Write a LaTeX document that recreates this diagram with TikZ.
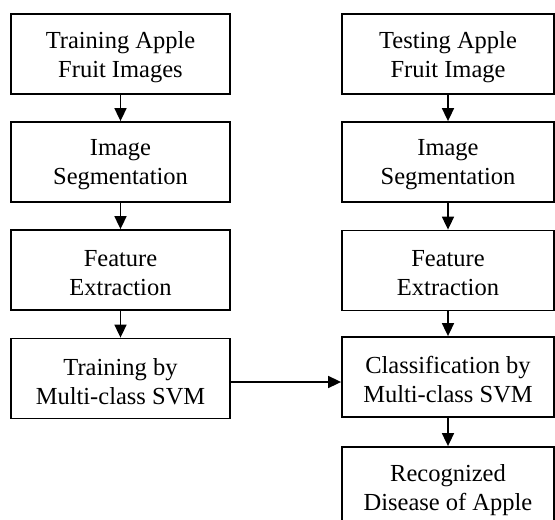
\documentclass[tikz,border=0pt]{standalone}
\usepackage{fontspec}
\setmainfont{Liberation Serif}
\usetikzlibrary{arrows.meta}
\begin{document}
\begin{tikzpicture}[x=1pt,y=-1pt,
  box/.style={draw,line width=1.8pt,minimum height=80pt,inner sep=0pt},
  lbox/.style={box,minimum width=219pt},
  rbox/.style={box,minimum width=212pt},
  txt/.style={inner sep=0pt,align=center,font=\fontsize{24.5}{29}\selectfont},
  arr/.style={line width=1.7pt,-{Triangle[length=13pt,width=12pt]}}]
\clip (0,0) rectangle (555,520);
\fill[white] (0,0) rectangle (555,520);
\node[lbox] (l1) at (120.5,54) {};
\node[lbox] (l2) at (120.5,162) {};
\node[lbox] (l3) at (120.5,270) {};
\node[lbox] (l4) at (120.5,378.5) {};
\node[rbox] (r1) at (448,54) {};
\node[rbox] (r2) at (448,162) {};
\node[rbox] (r3) at (448,270.5) {};
\node[rbox] (r4) at (448,377) {};
\node[rbox] (r5) at (448,487) {};
\node[txt] (t1) at ([yshift=-3pt]l1.center) {Training Apple\\Fruit Images};
\node[txt] (t2) at ([yshift=-3pt]l2.center) {Image\\Segmentation};
\node[txt] (t3) at ([yshift=-3pt]l3.center) {Feature\\Extraction};
\node[txt] (t4) at ([yshift=-3pt]l4.center) {Training by\\Multi-class SVM};
\node[txt] (u1) at ([yshift=-3pt]r1.center) {Testing Apple\\Fruit Image};
\node[txt] (u2) at ([yshift=-3pt]r2.center) {Image\\Segmentation};
\node[txt] (u3) at ([yshift=-3pt]r3.center) {Feature\\Extraction};
\node[txt] (u4) at ([yshift=-3pt]r4.center) {Classification by\\Multi-class SVM};
\node[txt] (u5) at ([yshift=-3pt]r5.center) {Recognized\\Disease of Apple};
\draw[arr] (l1) -- (l2);
\draw[arr] (l2) -- (l3);
\draw[arr] (l3) -- (l4);
\draw[arr] (r1) -- (r2);
\draw[arr] (r2) -- (r3);
\draw[arr] (r3) -- (r4);
\draw[arr] (r4) -- (r5);
\draw[arr] (l4.east |- 0,382) -- (r4.west |- 0,382);
\end{tikzpicture}
\end{document}
